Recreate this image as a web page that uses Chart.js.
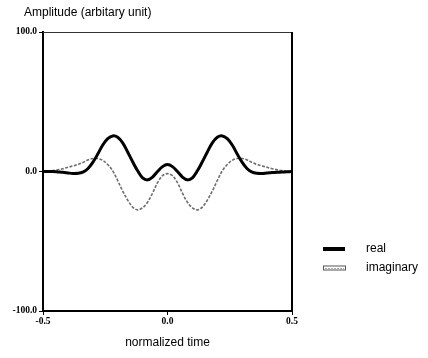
<!DOCTYPE html>
<html>
<head>
<meta charset="utf-8">
<script src="https://cdn.jsdelivr.net/npm/chart.js@4.4.1/dist/chart.umd.min.js"></script>
<style>
  html, body { margin: 0; padding: 0; background: #fff; }
  #wrap { width: 428px; height: 358px; position: relative; }
</style>
</head>
<body>
<div id="wrap"><canvas id="c" width="428" height="358"></canvas></div>
<script>
// ---- data ----
const timeValues = [
  -0.50, -0.48, -0.46, -0.44, -0.42, -0.40, -0.38, -0.36, -0.34, -0.32,
  -0.30, -0.28, -0.26, -0.24, -0.22, -0.20, -0.18, -0.16, -0.14, -0.12,
  -0.10, -0.08, -0.06, -0.04, -0.02, 0.00, 0.02, 0.04, 0.06, 0.08,
  0.10, 0.12, 0.14, 0.16, 0.18, 0.20, 0.22, 0.24, 0.26, 0.28,
  0.30, 0.32, 0.34, 0.36, 0.38, 0.40, 0.42, 0.44, 0.46, 0.48, 0.50
];
const realValues = [
  0, 0, 0, -0.3, -0.6, -1.0, -1.4, -1.3, -0.5, 2,
  6.5, 12.5, 19, 23.5, 25.5, 24.5, 20.5, 14, 7, 0.5,
  -4.5, -6, -4, 0, 3.5, 5, 3.5, 0, -4, -6,
  -4.5, 0.5, 7, 14, 20.5, 24.5, 25.5, 23.5, 19, 12.5,
  6.5, 2, -0.5, -1.3, -1.4, -1.0, -0.8, -0.6, -0.4, -0.2, 0
];
const imagValues = [
  0, 0.2, 0.6, 1.2, 2, 3, 4, 5, 6.5, 8.3,
  9.3, 9.3, 8, 5, 0.5, -6.5, -14, -20.5, -25.5, -27.5,
  -26, -22, -15.5, -8, -3, -1.5, -3, -8, -15.5, -22,
  -26, -27.5, -25.5, -20.5, -14, -6.5, 0.5, 5, 8, 9.3,
  9.3, 8.3, 6.5, 5, 4, 3, 2, 1.2, 0.6, 0.2, 0
];
const seriesLabels = ["real", "imaginary"];
const yTickValues = [-100, 0, 100];
const xTickValues = [-0.5, 0, 0.5];
const chartTitle = "Amplitude (arbitary unit)";
const xAxisTitle = "normalized time";

const toPoints = (ys) => timeValues.map((t, i) => ({ x: t, y: ys[i] }));

const framePlugin = {
  id: 'frame',
  afterDraw(chart) {
    const { ctx, chartArea: a } = chart;
    ctx.save();
    // top border (thin) and right border (thick)
    ctx.strokeStyle = '#333';
    ctx.lineWidth = 1;
    ctx.beginPath();
    ctx.moveTo(a.left, a.top + 0.5);
    ctx.lineTo(a.right, a.top + 0.5);
    ctx.stroke();
    ctx.strokeStyle = '#000';
    ctx.lineWidth = 2;
    ctx.beginPath();
    ctx.moveTo(a.right, a.top);
    ctx.lineTo(a.right, a.bottom);
    ctx.stroke();

    // title
    ctx.fillStyle = '#000';
    ctx.font = '12px "Liberation Sans", Arial, sans-serif';
    ctx.textAlign = 'left';
    ctx.textBaseline = 'middle';
    ctx.fillText(chartTitle, 24, 13);

    // legend
    const ds = chart.data.datasets;
    const lx = 323, lw = 22, tx = 366;
    const ys = [249, 268];
    ds.forEach((d, i) => {
      const y = ys[i];
      if (i === 0) {
        ctx.strokeStyle = d.borderColor;
        ctx.lineWidth = 4;
        ctx.setLineDash([]);
        ctx.beginPath();
        ctx.moveTo(lx, y);
        ctx.lineTo(lx + lw, y);
        ctx.stroke();
      } else {
        ctx.strokeStyle = '#555';
        ctx.lineWidth = 1;
        ctx.setLineDash([]);
        ctx.strokeRect(lx + 0.5, y - 2, lw, 4);
        ctx.strokeStyle = '#aaa';
        ctx.setLineDash([2, 1]);
        ctx.beginPath();
        ctx.moveTo(lx + 2, y + 0.5);
        ctx.lineTo(lx + lw - 1, y + 0.5);
        ctx.stroke();
        ctx.setLineDash([]);
      }
      ctx.fillStyle = '#000';
      ctx.font = '12px "Liberation Sans", Arial, sans-serif';
      ctx.fillText(d.label, tx, y);
    });
    ctx.restore();
  }
};

new Chart(document.getElementById('c'), {
  type: 'line',
  data: {
    datasets: [
      {
        label: seriesLabels[0],
        data: toPoints(realValues),
        borderColor: '#000',
        borderWidth: 3,
        pointRadius: 0,
        tension: 0.35,
        fill: false
      },
      {
        label: seriesLabels[1],
        data: toPoints(imagValues),
        borderColor: '#6e6e6e',
        borderWidth: 1.6,
        borderDash: [3, 1.5],
        pointRadius: 0,
        tension: 0.35,
        fill: false
      }
    ]
  },
  options: {
    responsive: false,
    animation: false,
    devicePixelRatio: 1,
    layout: { padding: { top: 32, right: 136, bottom: 0, left: 0 } },
    plugins: {
      legend: { display: false },
      title: { display: false },
      tooltip: { enabled: false }
    },
    scales: {
      x: {
        type: 'linear',
        min: -0.5,
        max: 0.5,
        afterBuildTicks: (s) => { s.ticks = xTickValues.map(v => ({ value: v })); },
        ticks: {
          callback: (v) => Number(v).toFixed(1),
          color: '#000',
          font: { family: '"Liberation Serif", "Times New Roman", serif', size: 9.5, weight: 'bold' },
          padding: 1,
          maxRotation: 0
        },
        grid: { display: true, drawOnChartArea: false, drawTicks: true, tickLength: 4, color: '#000', lineWidth: 1 },
        border: { display: true, color: '#000', width: 2 },
        title: {
          display: true,
          text: xAxisTitle,
          color: '#000',
          font: { family: '"Liberation Sans", Arial, sans-serif', size: 12 },
          padding: { top: 0, bottom: 8 }
        },
        afterFit: (s) => { s.height = 47; }
      },
      y: {
        min: -100,
        max: 100,
        afterBuildTicks: (s) => { s.ticks = yTickValues.map(v => ({ value: v })); },
        ticks: {
          callback: (v) => Number(v).toFixed(1),
          color: '#000',
          font: { family: '"Liberation Serif", "Times New Roman", serif', size: 9.5, weight: 'bold' },
          padding: 2
        },
        grid: { display: true, drawOnChartArea: false, drawTicks: true, tickLength: 4, color: '#000', lineWidth: 1 },
        border: { display: true, color: '#000', width: 2 },
        afterFit: (s) => { s.width = 43; }
      }
    }
  },
  plugins: [framePlugin]
});
</script>
</body>
</html>
